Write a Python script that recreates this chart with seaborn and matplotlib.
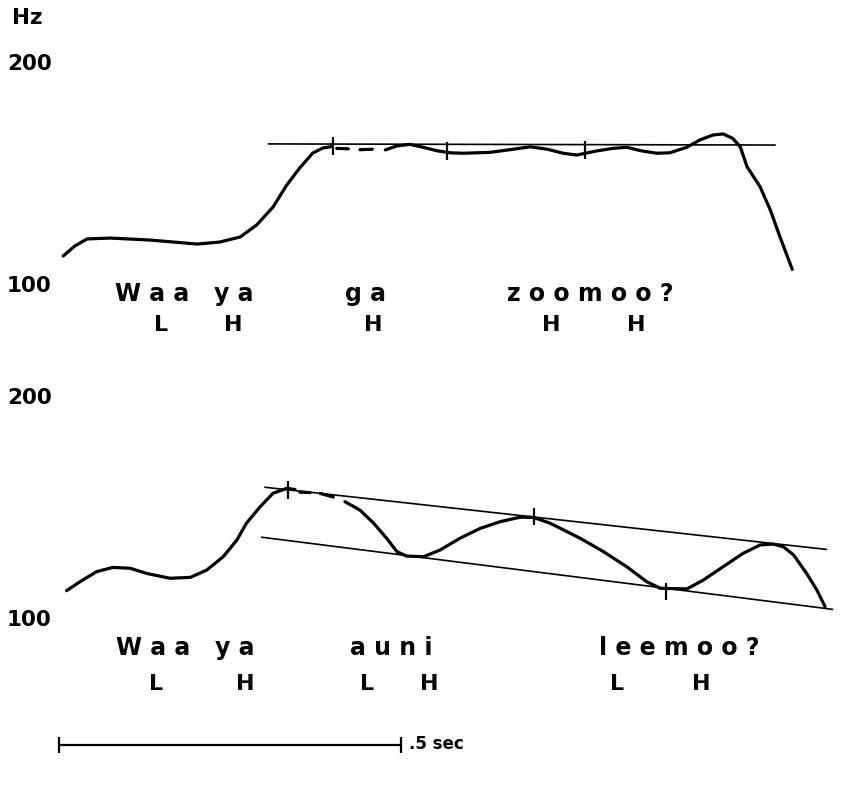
import numpy as np
import pandas as pd
import matplotlib
matplotlib.use("Agg")
import matplotlib.pyplot as plt
import seaborn as sns

# ---- pitch track, "Waa ya ga zoomoo?" (time in sec, F0 in Hz) ----
top_t1 = [0.006, 0.023, 0.041, 0.075, 0.133, 0.202, 0.235, 0.265, 0.289, 0.313, 0.333, 0.352, 0.371, 0.386, 0.399]
top_f1 = [113.5, 118.0, 121.2, 121.6, 120.7, 118.9, 119.8, 122.1, 127.5, 135.6, 145.5, 153.2, 159.9, 162.2, 162.8]
top_dash_t = [(0.406, 0.423), (0.440, 0.458)]
top_dash_f = [(162.0, 161.8), (161.4, 161.6)]
top_t2 = [0.477, 0.494, 0.513, 0.532, 0.553, 0.572, 0.591, 0.630, 0.664, 0.689, 0.714, 0.737, 0.757,
          0.787, 0.810, 0.830, 0.851, 0.874, 0.893, 0.918, 0.937, 0.956, 0.971, 0.985, 0.996, 1.006,
          1.025, 1.040, 1.054, 1.072]
top_f2 = [161.3, 163.1, 163.8, 162.5, 160.9, 160.0, 159.8, 160.2, 161.6, 162.7, 161.6, 159.8, 159.0,
          160.9, 162.0, 162.5, 160.9, 159.8, 160.0, 162.5, 165.8, 168.0, 168.5, 166.5, 162.7, 153.7,
          144.7, 134.2, 122.2, 107.5]
top_ref_t = [0.306, 1.047]
top_ref_f = [164.0, 163.5]
top_marks_t = [0.400, 0.567, 0.769]
top_marks_f = [163.1, 160.8, 161.3]

# ---- pitch track, "Waa ya auni leemoo?" ----
bot_t1 = [0.011, 0.031, 0.055, 0.079, 0.104, 0.128, 0.162, 0.192, 0.216, 0.240, 0.260, 0.274, 0.294,
          0.313, 0.333, 0.345]
bot_f1 = [113.2, 117.3, 121.8, 123.7, 123.3, 121.0, 118.8, 119.2, 122.5, 128.5, 136.0, 143.6, 151.0,
          157.1, 159.3, 158.8]
bot_dash_t = [(0.352, 0.367), (0.382, 0.401)]
bot_dash_f = [(157.6, 157.4), (157.0, 155.4)]
bot_t2 = [0.418, 0.440, 0.460, 0.479, 0.494, 0.508, 0.533, 0.557, 0.586, 0.616, 0.645, 0.674, 0.694,
          0.718, 0.733, 0.762, 0.796, 0.830, 0.859, 0.879, 0.918, 0.942, 0.971, 1.000, 1.025, 1.044,
          1.059, 1.074, 1.093, 1.108, 1.120]
bot_f2 = [153.3, 149.5, 143.6, 136.8, 130.8, 128.8, 128.5, 131.5, 136.8, 141.3, 144.3, 146.3, 146.2,
          143.6, 141.3, 136.8, 130.8, 124.0, 117.3, 114.3, 114.0, 118.0, 124.0, 130.0, 133.8, 134.2,
          133.0, 129.3, 121.0, 113.5, 106.0]
bot_top_ref_t = [0.301, 1.122]
bot_top_ref_f = [159.8, 131.8]
bot_low_ref_t = [0.296, 1.131]
bot_low_ref_f = [137.3, 104.8]
bot_marks_t = [0.335, 0.695, 0.887]
bot_marks_f = [158.6, 146.6, 112.8]

# ---- labels ----
hz_ticks = [200, 100]
top_words = ["W a a   y a", "g a", "z o o m o o ?"]
top_words_t = [0.082, 0.418, 0.655]
top_tones = ["L", "H", "H", "H", "H"]
top_tones_t = [0.149, 0.254, 0.459, 0.719, 0.844]
bot_words = ["W a a   y a", "a u n i", "l e e m o o ?"]
bot_words_t = [0.083, 0.425, 0.790]
bot_tones = ["L", "H", "L", "H", "L", "H"]
bot_tones_t = [0.142, 0.272, 0.450, 0.541, 0.816, 0.939]
scale_bar_t = [0.0, 0.5]

sns.set_theme(style="white")
plt.rcParams['font.family'] = ['DejaVu Sans']

fig = plt.figure(figsize=(8.41, 8.06), dpi=100)
ax_top = fig.add_axes([0, 1 - 380 / 806, 1, 380 / 806])
ax_bot = fig.add_axes([0, 0, 1, 426 / 806])

XLIM = (-0.0863, 1.1433)
LW_CURVE = 2.3
LW_REF = 1.2
INK = "black"


def draw_track(ax, t1, f1, dash_t, dash_f, t2, f2):
    sns.lineplot(x=t1, y=f1, ax=ax, color=INK, lw=LW_CURVE, sort=False, estimator=None)
    for (ta, tb), (fa, fb) in zip(dash_t, dash_f):
        sns.lineplot(x=[ta, tb], y=[fa, fb], ax=ax, color=INK, lw=LW_CURVE, sort=False, estimator=None)
    sns.lineplot(x=t2, y=f2, ax=ax, color=INK, lw=LW_CURVE, sort=False, estimator=None)


lab_kw = dict(fontsize=15.5, fontweight="bold", color=INK, va="center", ha="left")
word_kw = dict(fontsize=17, fontweight="bold", color=INK, va="center", ha="left")
tone_kw = dict(fontsize=16, fontweight="bold", color=INK, va="center", ha="center")

# top panel
draw_track(ax_top, top_t1, top_f1, top_dash_t, top_dash_f, top_t2, top_f2)
sns.lineplot(x=top_ref_t, y=top_ref_f, ax=ax_top, color=INK, lw=LW_REF, sort=False, estimator=None)
ax_top.vlines(top_marks_t, np.array(top_marks_f) - 4.0, np.array(top_marks_f) + 4.0, color=INK, lw=1.6)
ax_top.set_xlim(*XLIM)
ax_top.set_ylim(57.66, 228.83)

ax_top.text(-0.069, 220.5, "Hz", **lab_kw)
for v in hz_ticks:
    ax_top.text(-0.076, v, str(v), **lab_kw)
for w, t in zip(top_words, top_words_t):
    ax_top.text(t, 96.4, w, **word_kw)
for s, t in zip(top_tones, top_tones_t):
    ax_top.text(t, 82.4, s, **tone_kw)

# bottom panel
draw_track(ax_bot, bot_t1, bot_f1, bot_dash_t, bot_dash_f, bot_t2, bot_f2)
sns.lineplot(x=bot_top_ref_t, y=bot_top_ref_f, ax=ax_bot, color=INK, lw=LW_REF, sort=False, estimator=None)
sns.lineplot(x=bot_low_ref_t, y=bot_low_ref_f, ax=ax_bot, color=INK, lw=LW_REF, sort=False, estimator=None)
ax_bot.vlines(bot_marks_t, np.array(bot_marks_f) - 4.0, np.array(bot_marks_f) + 4.0, color=INK, lw=1.6)
ax_bot.set_xlim(*XLIM)
ax_bot.set_ylim(16.22, 208.11)

for v in hz_ticks:
    ax_bot.text(-0.076, v, str(v), **lab_kw)
for w, t in zip(bot_words, bot_words_t):
    ax_bot.text(t, 87.4, w, **word_kw)
for s, t in zip(bot_tones, bot_tones_t):
    ax_bot.text(t, 71.2, s, **tone_kw)

# time scale bar
bar_f = 43.7
sns.lineplot(x=scale_bar_t, y=[bar_f, bar_f], ax=ax_bot, color=INK, lw=1.6, sort=False, estimator=None)
ax_bot.vlines(scale_bar_t, bar_f - 3.6, bar_f + 3.6, color=INK, lw=1.6)
ax_bot.text(scale_bar_t[1] + 0.012, bar_f + 0.5, ".5 sec", fontsize=12, fontweight="bold",
            color=INK, va="center", ha="left")

for ax in (ax_top, ax_bot):
    ax.set_axis_off()

fig.savefig("out.png", dpi=100, facecolor="white")
